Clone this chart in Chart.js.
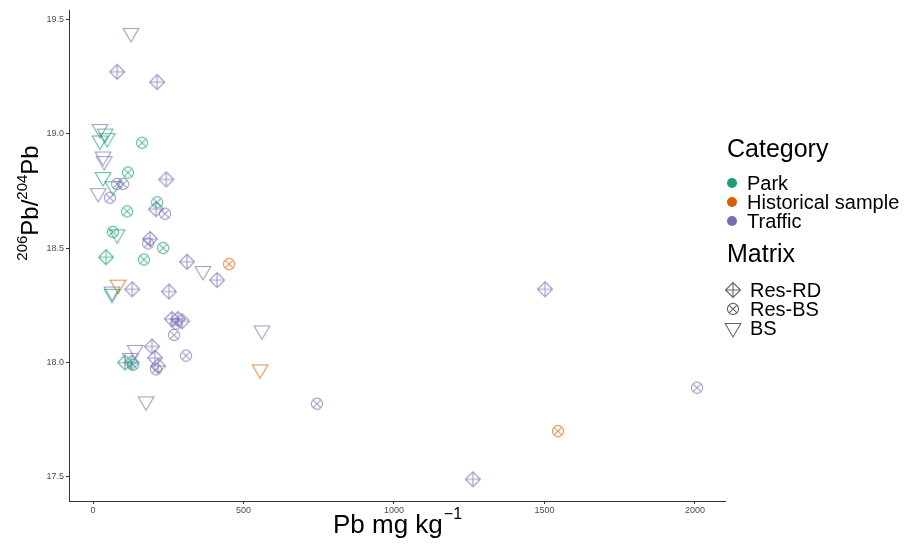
<!DOCTYPE html>
<html>
<head>
<meta charset="utf-8">
<script src="https://cdn.jsdelivr.net/npm/chart.js@4.4.1/dist/chart.umd.min.js"></script>
<style>
  html, body { margin: 0; padding: 0; background: #fff; }
  canvas { display: block; }
</style>
</head>
<body>
<canvas id="chart" width="910" height="547"></canvas>
<script>
'use strict'

// Pb concentration (mg/kg) and 206Pb/204Pb ratio, per category and matrix
const parkRdPb = [43, 106]
const parkRdRatio = [18.46, 18.00]
const parkResBsPb = [163, 116, 213, 113, 66, 233, 169, 133]
const parkResBsRatio = [18.96, 18.83, 18.70, 18.66, 18.57, 18.50, 18.45, 17.99]
const parkBsPb = [40, 23, 47, 33, 66, 80, 63]
const parkBsRatio = [19.00, 18.97, 18.98, 18.81, 18.77, 18.56, 18.30]

const histResBsPb = [452, 1545]
const histResBsRatio = [18.43, 17.70]
const histBsPb = [83, 555]
const histBsRatio = [18.34, 17.97]

const trafficRdPb = [80, 213, 243, 209, 189, 312, 412, 130, 252, 262, 282, 296, 196, 206, 216, 128, 1502, 1262]
const trafficRdRatio = [19.27, 19.225, 18.80, 18.67, 18.54, 18.44, 18.36, 18.32, 18.31, 18.19, 18.19, 18.18, 18.07, 18.02, 17.985, 18.00, 18.32, 17.49]
const trafficResBsPb = [80, 100, 56, 239, 183, 276, 269, 309, 209, 744, 2007]
const trafficResBsRatio = [18.78, 18.78, 18.72, 18.65, 18.52, 18.17, 18.12, 18.03, 17.97, 17.82, 17.89]
const trafficBsPb = [126, 23, 33, 37, 17, 365, 63, 561, 140, 123, 176]
const trafficBsRatio = [19.44, 19.02, 18.90, 18.88, 18.74, 18.40, 18.31, 18.14, 18.055, 18.02, 17.83]

const categories = ['Park', 'Historical sample', 'Traffic']
const categoryColors = ['#1B9E77', '#D95F02', '#7570B3']
const matrices = ['Res-RD', 'Res-BS', 'BS']

const xTicks = [0, 500, 1000, 1500, 2000]
const yTicks = [17.5, 18.0, 18.5, 19.0, 19.5]

const FONT = '"Liberation Sans", Arial, sans-serif'

function rgba (hex, a) {
  const n = parseInt(hex.slice(1), 16)
  return 'rgba(' + (n >> 16) + ',' + ((n >> 8) & 255) + ',' + (n & 255) + ',' + a + ')'
}

// ggplot-like hollow shapes: 9 (diamond plus), 13 (circle cross), 6 (down triangle)
function drawShape (g, shape, cx, cy) {
  g.beginPath()
  if (shape === 'Res-RD') {
    const r = 7.5
    g.moveTo(cx, cy - r); g.lineTo(cx + r, cy); g.lineTo(cx, cy + r); g.lineTo(cx - r, cy); g.closePath()
    g.moveTo(cx, cy - r); g.lineTo(cx, cy + r)
    g.moveTo(cx - r, cy); g.lineTo(cx + r, cy)
  } else if (shape === 'Res-BS') {
    const r = 5.6
    const d = r * 0.7071
    g.arc(cx, cy, r, 0, Math.PI * 2)
    g.moveTo(cx - d, cy - d); g.lineTo(cx + d, cy + d)
    g.moveTo(cx + d, cy - d); g.lineTo(cx - d, cy + d)
  } else {
    const s = 7.8
    g.moveTo(cx - s, cy - 4.5); g.lineTo(cx + s, cy - 4.5); g.lineTo(cx, cy + 9); g.closePath()
  }
  g.stroke()
}

function makeMarker (shape, color) {
  const c = document.createElement('canvas')
  c.width = 22
  c.height = 22
  const g = c.getContext('2d')
  g.strokeStyle = color
  g.lineWidth = 1.1
  drawShape(g, shape, 11, 11)
  return c
}

function pts (xs, ys) {
  return xs.map((x, i) => ({ x: x, y: ys[i] }))
}

const groups = [
  [0, 'Res-RD', parkRdPb, parkRdRatio],
  [0, 'Res-BS', parkResBsPb, parkResBsRatio],
  [0, 'BS', parkBsPb, parkBsRatio],
  [1, 'Res-BS', histResBsPb, histResBsRatio],
  [1, 'BS', histBsPb, histBsRatio],
  [2, 'Res-RD', trafficRdPb, trafficRdRatio],
  [2, 'Res-BS', trafficResBsPb, trafficResBsRatio],
  [2, 'BS', trafficBsPb, trafficBsRatio]
]

const datasets = groups.map(([ci, shape, xs, ys]) => ({
  label: categories[ci] + ' ' + shape,
  data: pts(xs, ys),
  pointStyle: makeMarker(shape, rgba(categoryColors[ci], 0.7)),
  pointRadius: 7,
  showLine: false
}))

// axis titles with superscripts and the two-part legend
const decorations = {
  id: 'decorations',
  afterDraw (chart) {
    const ctx = chart.ctx
    ctx.save()
    ctx.fillStyle = '#000'
    ctx.textBaseline = 'alphabetic'

    // x title
    const main = 'Pb mg kg'
    ctx.font = '16px ' + FONT
    const supW = ctx.measureText('\u22121').width
    ctx.font = '26px ' + FONT
    const mainW = ctx.measureText(main).width
    const x0 = 397 - (mainW + supW) / 2
    ctx.textAlign = 'left'
    ctx.fillText(main, x0, 533)
    ctx.font = '16px ' + FONT
    ctx.fillText('\u22121', x0 + mainW + 1, 519)

    // y title
    ctx.translate(38, 203)
    ctx.rotate(-Math.PI / 2)
    const parts = [['206', true], ['Pb/', false], ['204', true], ['Pb', false]]
    let total = 0
    parts.forEach(p => {
      ctx.font = (p[1] ? '15px ' : '24px ') + FONT
      total += ctx.measureText(p[0]).width
    })
    let px = -total / 2
    parts.forEach(p => {
      ctx.font = (p[1] ? '15px ' : '24px ') + FONT
      ctx.fillText(p[0], px, p[1] ? -11 : 0)
      px += ctx.measureText(p[0]).width
    })
    ctx.setTransform(1, 0, 0, 1, 0, 0)

    // legend: Category
    ctx.textAlign = 'left'
    ctx.font = '25px ' + FONT
    ctx.fillText('Category', 727, 157)
    ctx.font = '20px ' + FONT
    ctx.textBaseline = 'middle'
    categories.forEach((name, i) => {
      const cy = 183 + i * 19
      ctx.fillStyle = categoryColors[i]
      ctx.beginPath()
      ctx.arc(732, cy, 5, 0, Math.PI * 2)
      ctx.fill()
      ctx.fillStyle = '#000'
      ctx.fillText(name, 747, cy + 1)
    })

    // legend: Matrix
    ctx.textBaseline = 'alphabetic'
    ctx.font = '25px ' + FONT
    ctx.fillText('Matrix', 727, 262)
    ctx.font = '20px ' + FONT
    ctx.textBaseline = 'middle'
    ctx.strokeStyle = 'rgba(0,0,0,0.6)'
    ctx.lineWidth = 1.1
    matrices.forEach((name, i) => {
      const cy = 290 + i * 19
      drawShape(ctx, name, 733, cy)
      ctx.fillStyle = '#000'
      ctx.fillText(name, 750, cy + 1)
    })
    ctx.restore()
  }
}

new Chart(document.getElementById('chart'), {
  type: 'scatter',
  data: { datasets: datasets },
  options: {
    responsive: false,
    animation: false,
    layout: { padding: { left: 0, right: 185, top: 10, bottom: 0 } },
    plugins: {
      legend: { display: false },
      tooltip: { enabled: false }
    },
    scales: {
      x: {
        type: 'linear',
        min: -80,
        max: 2100,
        afterBuildTicks: s => { s.ticks = xTicks.map(v => ({ value: v })) },
        afterFit: s => { s.height = 46 },
        ticks: {
          color: '#4d4d4d',
          font: { size: 9, family: FONT },
          padding: 1,
          maxRotation: 0,
          callback: v => String(v)
        },
        grid: { drawOnChartArea: false, tickLength: 3, color: '#333' },
        border: { color: '#333', width: 1 }
      },
      y: {
        type: 'linear',
        min: 17.395,
        max: 19.54,
        afterBuildTicks: s => { s.ticks = yTicks.map(v => ({ value: v })) },
        afterFit: s => { s.width = 69 },
        ticks: {
          color: '#4d4d4d',
          font: { size: 9, family: FONT },
          padding: 2,
          callback: v => v.toFixed(1)
        },
        grid: { drawOnChartArea: false, tickLength: 3, color: '#333' },
        border: { color: '#333', width: 1 }
      }
    }
  },
  plugins: [decorations]
})
</script>
</body>
</html>
